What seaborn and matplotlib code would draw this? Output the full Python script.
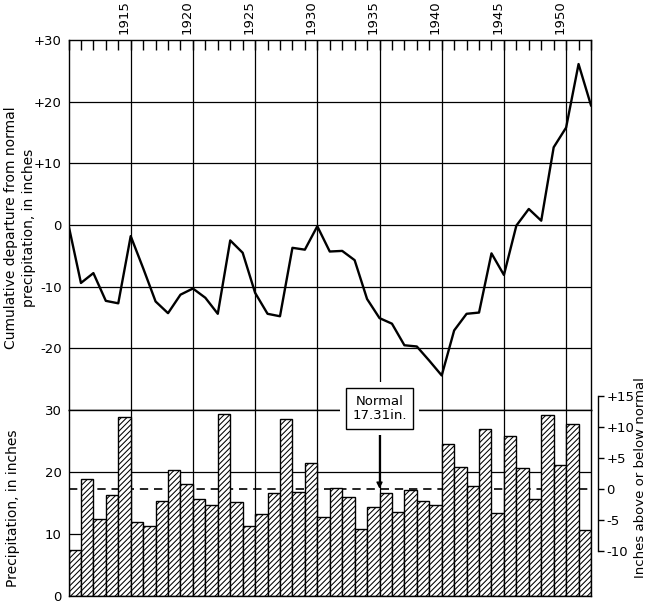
import numpy as np
import pandas as pd
import matplotlib
matplotlib.use("Agg")
import matplotlib.pyplot as plt
import seaborn as sns

# ---------------- data ----------------
precip_years = list(range(1911, 1953))
precip = [7.4, 18.9, 12.5, 16.3, 28.9, 12.0, 11.3, 15.3, 20.3, 18.0,
          15.6, 14.6, 29.4, 15.1, 11.3, 13.2, 16.6, 28.5, 16.8, 21.4,
          12.8, 17.5, 15.9, 10.8, 14.3, 16.6, 13.6, 17.1, 15.3, 14.7,
          24.5, 20.8, 17.8, 26.9, 13.4, 25.8, 20.6, 15.6, 29.2, 21.1,
          27.8, 10.6]
cum_years = list(range(1910, 1953))
cum_departure = [0.0, -9.4, -7.8, -12.3, -12.7, -1.8, -7.0, -12.4, -14.3, -11.3,
                 -10.3, -11.8, -14.4, -2.5, -4.5, -11.0, -14.4, -14.8, -3.7, -4.0,
                 -0.2, -4.3, -4.2, -5.7, -12.0, -15.1, -16.0, -19.5, -19.7, -22.0,
                 -24.4, -17.1, -14.4, -14.2, -4.6, -8.1, -0.1, 2.6, 0.7, 12.6,
                 15.8, 26.1, 19.4]
normal = 17.31
label_years = [1915, 1920, 1925, 1930, 1935, 1940, 1945, 1950]
top_ticks = [30, 20, 10, 0, -10, -20]
top_tick_labels = ["+30", "+20", "+10", "0", "-10", "-20"]
bot_ticks = [0, 10, 20, 30]
right_ticks = [15, 10, 5, 0, -5, -10]
right_tick_labels = ["+15", "+10", "+5", "0", "-5", "-10"]

bars = pd.DataFrame({"center": [y - 0.5 for y in precip_years], "precip": precip})
line = pd.DataFrame({"year": cum_years, "dep": cum_departure})

# ---------------- style ----------------
plt.rcParams["font.family"] = ["DejaVu Sans"]
plt.rcParams["hatch.linewidth"] = 0.75
plt.rcParams["axes.linewidth"] = 1.0

W, H = 650, 604
fig = plt.figure(figsize=(W / 100, H / 100), dpi=100)
fig.patch.set_facecolor("white")

left_px, right_px = 68.5, 591.0
top_px, mid_px, bot_px = 40.0, 410.0, 596.0
L = left_px / W
Wd = (right_px - left_px) / W

ax_top = fig.add_axes([L, (H - mid_px) / H, Wd, (mid_px - top_px) / H])
ax_bot = fig.add_axes([L, (H - bot_px) / H, Wd, (bot_px - mid_px) / H])

XMIN, XMAX = 1910, 1952
grid_kw = dict(color="black", lw=0.9, zorder=1)

# ---------------- top panel ----------------
for yv in [20, 10, 0, -10, -20]:
    ax_top.axhline(yv, **grid_kw)
for xv in label_years:
    ax_top.axvline(xv, **grid_kw)
sns.lineplot(data=line, x="year", y="dep", ax=ax_top, color="black", lw=1.7, zorder=3)
ax_top.set_xlim(XMIN, XMAX)
ax_top.set_ylim(-30, 30)
ax_top.set_yticks(top_ticks)
ax_top.set_yticklabels(top_tick_labels, fontsize=9.5)
ax_top.tick_params(axis="y", length=0, pad=5)
ax_top.set_xlabel("")
ax_top.set_ylabel("")
ax_top.xaxis.tick_top()
ax_top.set_xticks([y - 0.5 for y in label_years])
ax_top.set_xticklabels([str(y) for y in label_years], rotation=90, fontsize=9.5)
ax_top.set_xticks(list(range(XMIN, XMAX + 1)), minor=True)
ax_top.tick_params(axis="x", which="major", length=0, pad=4, top=True, bottom=False)
ax_top.tick_params(axis="x", which="minor", direction="in", length=7.5, width=1.0,
                   top=True, bottom=False)
for s in ax_top.spines.values():
    s.set_color("black")

# ---------------- bottom panel ----------------
for yv in [10, 20]:
    ax_bot.axhline(yv, color="black", lw=0.9, zorder=0)
for xv in label_years:
    ax_bot.axvline(xv, color="black", lw=0.9, zorder=0)
ax_bot.axhline(normal, color="black", lw=1.2, ls=(0, (5, 3.5)), zorder=0.5)
sns.barplot(data=bars, x="center", y="precip", ax=ax_bot, native_scale=True,
            width=1.0, color="white", saturation=1, edgecolor="black",
            linewidth=1.0, hatch="//////", errorbar=None, zorder=2)
ax_bot.set_xlim(XMIN, XMAX)
ax_bot.set_ylim(0, 30)
ax_bot.set_yticks(bot_ticks)
ax_bot.set_yticklabels([str(t) for t in bot_ticks], fontsize=9.5)
ax_bot.tick_params(axis="y", length=0, pad=5)
ax_bot.set_xticks([])
ax_bot.set_xlabel("")
ax_bot.set_ylabel("")
for s in ax_bot.spines.values():
    s.set_color("black")

# normal annotation
px_per_unit = (bot_px - mid_px) / 30.0
box_y = (bot_px - 408.5) / px_per_unit
box_bottom = (bot_px - 427.0) / px_per_unit
ax_bot.annotate("", xy=(1935, normal), xytext=(1935, box_bottom),
                arrowprops=dict(arrowstyle="-|>", color="black", lw=1.0,
                                mutation_scale=9, shrinkA=0, shrinkB=0),
                zorder=8, annotation_clip=False)
ax_bot.text(1935, box_y, "Normal\n17.31in.", ha="center", va="center",
            fontsize=9.5, color="white", linespacing=1.1, zorder=9, clip_on=False,
            bbox=dict(boxstyle="square,pad=0.95", fc="white", ec="none"))
ax_bot.text(1935, box_y, "Normal\n17.31in.", ha="center", va="center",
            fontsize=9.5, color="black", linespacing=1.1, zorder=10, clip_on=False,
            bbox=dict(boxstyle="square,pad=0.5", fc="white", ec="black", lw=1.0))

# ---------------- right scale ----------------
top_precip = 34.0
ax_r = fig.add_axes([L, (H - bot_px) / H, Wd, top_precip * px_per_unit / H])
ax_r.patch.set_visible(False)
ax_r.set_xlim(XMIN, XMAX)
ax_r.set_ylim(-normal, top_precip - normal)
for k in ["left", "top", "bottom"]:
    ax_r.spines[k].set_visible(False)
ax_r.spines["right"].set_position(("outward", 5))
ax_r.spines["right"].set_bounds(-10, 15)
ax_r.spines["right"].set_color("black")
ax_r.set_xticks([])
ax_r.yaxis.tick_right()
ax_r.set_yticks(right_ticks)
ax_r.set_yticklabels(right_tick_labels, fontsize=9.5)
ax_r.tick_params(axis="y", direction="out", length=4, width=1.0, pad=2, left=False)

# ---------------- axis titles ----------------
fig.text(20 / W, 1 - 228 / H, "Cumulative departure from normal\nprecipitation, in inches",
         rotation=90, ha="center", va="center", fontsize=10, linespacing=1.3,
         multialignment="center")
fig.text(13 / W, 1 - 508 / H, "Precipitation, in inches", rotation=90,
         ha="center", va="center", fontsize=10)
fig.text(640 / W, 1 - 478 / H, "Inches above or below normal", rotation=90,
         ha="center", va="center", fontsize=9.5)

fig.savefig("out.png", dpi=100)
